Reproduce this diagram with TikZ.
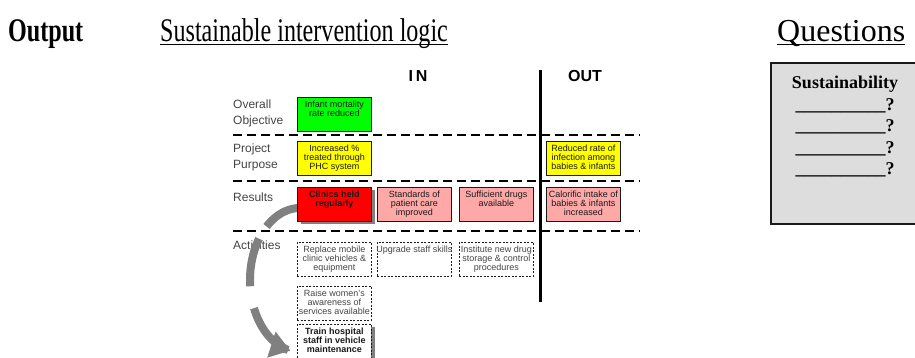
\documentclass[tikz,border=0pt]{standalone}
\usepackage{fontspec}
\setmainfont{Liberation Serif}
\setsansfont{Liberation Sans}
\newfontfamily\headfont[FakeStretch=0.73]{Liberation Serif}
\usetikzlibrary{arrows.meta,shadows}
\definecolor{lfgreen}{HTML}{00FF00}
\definecolor{lfyellow}{HTML}{FFFF00}
\definecolor{lfred}{HTML}{FF0000}
\definecolor{lfpink}{HTML}{FFA8A8}
\definecolor{lfgrey}{HTML}{808080}
\definecolor{lfpanel}{HTML}{DDDDDD}
\definecolor{lfink}{HTML}{1A1A1A}
\definecolor{lfmute}{HTML}{444444}
\tikzset{
  bx/.style={minimum width=74pt, minimum height=34pt, inner sep=0pt, anchor=north west},
  fbx/.style={bx, draw=lfink, line width=0.8pt},
  abx/.style={bx, draw=lfink, dash pattern=on 2pt off 1.5pt, line width=0.7pt},
  shd/.style={drop shadow={shadow xshift=3.5pt, shadow yshift=-3pt, fill=lfgrey, opacity=1}},
  txt/.style={anchor=north, inner sep=0pt, yshift=-4pt, align=center, text=lfink, font=\sffamily\fontsize{9}{9}\selectfont},
  txtb/.style={txt, font=\sffamily\bfseries\fontsize{9}{9}\selectfont},
  row/.style={anchor=west, align=left, inner sep=0pt, text=lfmute, font=\sffamily\fontsize{12}{16}\selectfont},
  sep/.style={line width=2.8pt, dash pattern=on 9pt off 5pt},
  hd/.style={inner sep=0pt, font=\sffamily\bfseries\fontsize{16}{16}\selectfont},
  ttl/.style={inner sep=0pt, anchor=base west, font=\headfont\fontsize{33}{33}\selectfont},
  uline/.style={line width=1.6pt},
  cyc/.style={line width=8pt, draw=lfgrey},
}

\begin{document}
\begin{tikzpicture}[x=1pt, y=-1pt]
    \useasboundingbox (0,0) rectangle (915,357);
    \clip (0,0) rectangle (915,357);
    \node[ttl, font=\headfont\bfseries\fontsize{33}{33}\selectfont] (outp) at (8,41) {Output};
    \node[ttl] (logic) at (160,41) {Sustainable intervention logic};
    \node[ttl, font=\fontsize{32}{32}\selectfont] (quest) at (777,41) {Questions};
    \draw[uline] ([yshift=-3.5pt]logic.base west) -- ([yshift=-3.5pt]logic.base east);
    \draw[uline] ([yshift=-3.5pt]quest.base west) -- ([yshift=-3.5pt]quest.base east);
    \node[hd] (hin) at (418,76) {I\,N};
    \node[hd] (hout) at (585,76) {OUT};
    \draw[line width=3pt] (540,70) -- (540,302);
    \foreach \y in {135,181,231}
      \draw[sep] (233,\y) -- (640,\y);
    \foreach \nm/\y/\tx in {lobj/113/{Overall\\Objective}, lpur/157/{Project\\Purpose}, lres/197/{Results}, lact/245/{Activities}}
      \node[row] (\nm) at (233,\y) {\tx};
    \draw[cyc] plot[domain=90:132, samples=20] ({300+50*cos(\x)}, {280-72*sin(\x)});
    \draw[cyc] plot[domain=145:185, samples=20] ({300+50*cos(\x)}, {280-72*sin(\x)});
    \draw[cyc, -{Triangle[length=20pt, width=26pt]}] plot[domain=203:259, samples=20] ({300+50*cos(\x)}, {280-72*sin(\x)});
    \foreach \nm/\x/\y/\col/\tx in {
      obj/297/97/lfgreen/{Infant mortality\\rate reduced},
      pin/297/141/lfyellow/{Increased \%\\treated through\\PHC system},
      pout/546/141/lfyellow/{Reduced rate of\\infection among\\babies \& infants},
      res2/377/187/lfpink/{Standards of\\patient care\\improved},
      res3/459/187/lfpink/{Sufficient drugs\\available},
      res4/546/187/lfpink/{Calorific intake of\\babies \& infants\\increased}}
    {
      \node[fbx, fill=\col, label={[txt]north:\tx}] (\nm) at (\x,\y) {};
    }
    \node[fbx, shd, fill=lfred, label={[txtb]north:Clinics held\\regularly}] (res1) at (297,187) {};
    \foreach \nm/\x/\y/\tx in {
      act1/297/242/{Replace mobile\\clinic vehicles \&\\equipment},
      act2/377/242/{Upgrade staff skills},
      act3/459/242/{Institute new drug\\storage \& control\\procedures},
      act4/297/286/{Raise women's\\awareness of\\services available}}
    {
      \node[abx, label={[txt, text=lfmute]north:\tx}] (\nm) at (\x,\y) {};
    }
    \node[abx, shd, fill=white, label={[txtb]north:Train hospital\\staff in vehicle\\maintenance}] (act5) at (297,324) {};
    \node[draw=lfink, line width=1.5pt, fill=lfpanel, anchor=north west, minimum width=170pt, minimum height=161pt] (qbox) at (770,62) {};
    \node[anchor=north, align=center, inner sep=0pt, font=\bfseries\fontsize{18}{21.5}\selectfont] (qtxt) at (845,76)
      {Sustainability\\\_\_\_\_\_\_\_\_\_\_?\\\_\_\_\_\_\_\_\_\_\_?\\\_\_\_\_\_\_\_\_\_\_?\\\_\_\_\_\_\_\_\_\_\_?};
  \end{tikzpicture}
\end{document}
